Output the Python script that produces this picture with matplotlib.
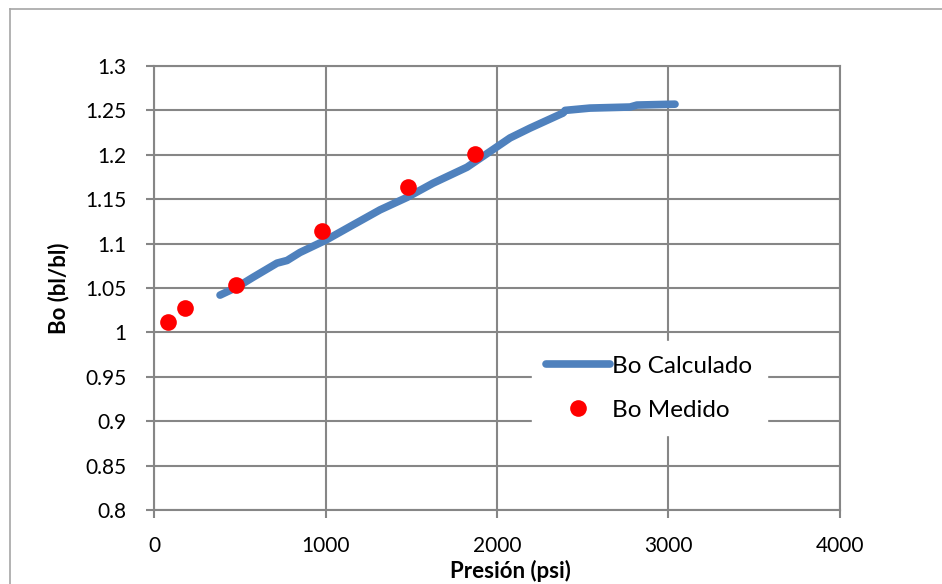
import matplotlib
matplotlib.use("Agg")
import matplotlib.pyplot as plt
from matplotlib.lines import Line2D

plt.rcParams['font.family'] = ['Lato', 'DejaVu Sans']

# Bo calculado (curva)
p_calc = [385, 484, 577, 717, 776, 851, 1003, 1160, 1318, 1475, 1627, 1825,
          2000, 2076, 2192, 2385, 2397, 2542, 2776, 2816, 3038]
bo_calc = [1.042, 1.051, 1.062, 1.078, 1.081, 1.090, 1.104, 1.121, 1.138, 1.152,
           1.168, 1.186, 1.209, 1.219, 1.230, 1.247, 1.250, 1.2526, 1.2538, 1.256, 1.257]

# Bo medido (puntos)
p_med = [80, 180, 480, 980, 1480, 1870]
bo_med = [1.012, 1.028, 1.053, 1.114, 1.1635, 1.2007]

xticks = [0, 1000, 2000, 3000, 4000]
yticks = [0.8, 0.85, 0.9, 0.95, 1, 1.05, 1.1, 1.15, 1.2, 1.25, 1.3]
yticklabels = ['0.8', '0.85', '0.9', '0.95', '1', '1.05', '1.1', '1.15', '1.2', '1.25', '1.3']

grid = '#868686'

fig = plt.figure(figsize=(9.42, 5.84), dpi=100)
ax = fig.add_axes([0.1635, 0.1267, 0.7282, 0.7603])

# borde del area del grafico
fig.add_artist(Line2D([10/942, 10/942], [0, 1 - 9/584], color='#a6a6a6', lw=1.2))
fig.add_artist(Line2D([10/942, 1], [1 - 9/584, 1 - 9/584], color='#a6a6a6', lw=1.2))

ax.plot(p_calc, bo_calc, color='#4F81BD', lw=5.5, solid_capstyle='round',
        solid_joinstyle='round', label='Bo Calculado', zorder=3)
ax.plot(p_med, bo_med, 'o', color='#FF0000', ms=12, mew=0, label='Bo Medido', zorder=4)

ax.set_xlim(0, 4000)
ax.set_ylim(0.8, 1.3)
ax.set_xticks(xticks)
ax.set_yticks(yticks)
ax.set_yticklabels(yticklabels)
ax.grid(True, color=grid, lw=1.5)
ax.set_axisbelow(True)
for s in ax.spines.values():
    s.set_color(grid)
    s.set_linewidth(1.5)
ax.tick_params(axis='both', direction='out', length=6, width=1.5, color=grid,
               labelsize=15)
ax.tick_params(axis='y', pad=14)
ax.tick_params(axis='x', pad=13)

ax.set_xlabel('Presión (psi)', fontsize=16, fontweight='bold')
ax.xaxis.set_label_coords(0.52, -0.112)
ax.set_ylabel('Bo (bl/bl)', fontsize=16, fontweight='bold')
ax.yaxis.set_label_coords(-0.124, 0.5)

leg = ax.legend(loc='center', bbox_to_anchor=(0.722, 0.274), frameon=True,
                fontsize=17.5, handlelength=2.6, handletextpad=0.1,
                labelspacing=0.95, borderpad=0.6, fancybox=False)
leg.get_frame().set_edgecolor('white')
leg.get_frame().set_facecolor('white')
leg.get_frame().set_alpha(1)

fig.savefig('out.png', dpi=100)
